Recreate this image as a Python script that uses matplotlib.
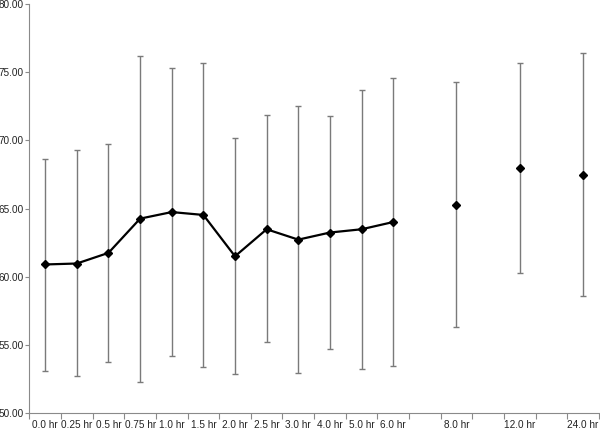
import numpy as np
import matplotlib
matplotlib.use("Agg")
import matplotlib.pyplot as plt

# categories (empty slots keep the gaps before 8, 12 and 24 hr)
cats=["0.0 hr","0.25 hr","0.5 hr","0.75 hr","1.0 hr","1.5 hr","2.0 hr","2.5 hr","3.0 hr",
      "4.0 hr","5.0 hr","6.0 hr","","8.0 hr","","12.0 hr","","24.0 hr"]
means=[60.91,60.98,61.76,64.27,64.75,64.54,61.51,63.49,62.73,63.25,63.49,64.02,65.30,68.00,67.49]
upper=[68.61,69.27,69.73,76.17,75.34,75.65,70.15,71.83,72.54,71.81,73.73,74.59,74.27,75.70,76.42]
lower=[53.10,52.71,53.74,52.27,54.18,53.37,52.86,55.20,52.96,54.71,53.27,53.44,56.30,60.25,58.59]
pointLabels=[c for c in cats if c!=""]
nLine=12  # first 12 points are joined by a line

xPos=np.array([cats.index(lbl) for lbl in pointLabels])
meansArr=np.array(means)
yerr=np.vstack([meansArr-np.array(lower),np.array(upper)-meansArr])

plt.rcParams["font.family"]=["Liberation Sans Narrow","Liberation Sans","DejaVu Sans"]
fig=plt.figure(figsize=(6,4.29),dpi=100)
ax=fig.add_axes([0.049,0.0366,0.949,0.954])

ax.errorbar(xPos,meansArr,yerr=yerr,fmt="none",ecolor="#7a7a7a",elinewidth=1.0,
            capsize=2.5,capthick=1.0,zorder=1)
ax.plot(xPos[:nLine],meansArr[:nLine],color="black",lw=1.6,zorder=2)
ax.plot(xPos,meansArr,linestyle="none",marker="D",markersize=4.2,color="black",zorder=3)

ax.set_xlim(-0.5,len(cats)-0.5)
ax.set_ylim(50,80)
ax.set_yticks(np.arange(50,81,5))
ax.set_yticklabels(["%.2f"%v for v in np.arange(50,81,5)])
ax.set_xticks(range(len(cats)))
ax.set_xticklabels(cats)
ax.set_xticks(np.arange(-0.5,len(cats),1),minor=True)
ax.tick_params(axis="x",which="major",length=0,labelsize=7.2,pad=5,colors="#222222")
ax.tick_params(axis="x",which="minor",length=4,color="#8a8a8a",width=0.8)
ax.tick_params(axis="y",length=3,color="#8a8a8a",width=0.8,labelsize=7.2,pad=1,labelcolor="#222222")

for s in ["top","right"]:
    ax.spines[s].set_visible(False)
for s in ["left","bottom"]:
    ax.spines[s].set_color("#8a8a8a")
    ax.spines[s].set_linewidth(0.8)

plt.savefig("out.png",dpi=100)
plt.close()
